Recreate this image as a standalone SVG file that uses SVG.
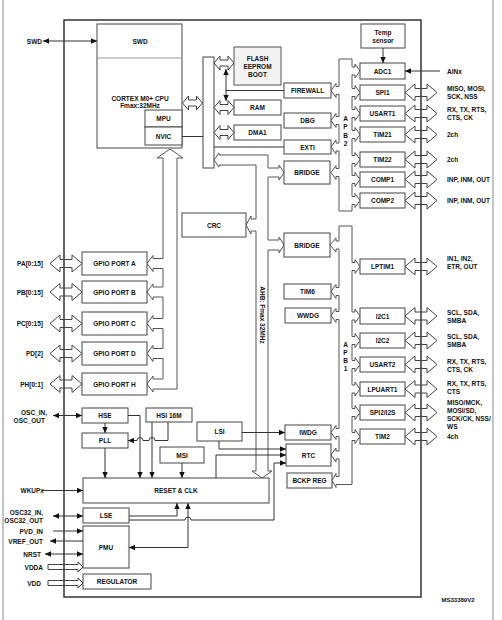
<svg xmlns="http://www.w3.org/2000/svg" width="502" height="620" viewBox="0 0 502 620">
<style>
.box{fill:#fff;stroke:#444;stroke-width:1}
.bx2{fill:#f3f3f3;stroke:#555;stroke-width:1}
.t{font-family:"Liberation Sans",Arial,sans-serif;font-size:6.5px;font-weight:bold;fill:#111;text-anchor:middle;dominant-baseline:central}
.s{text-anchor:start}
.e{text-anchor:end}
.ln{fill:none;stroke:#333;stroke-width:1}
.bus{fill:#fff;stroke:#555;stroke-width:1}
.ha{fill:none;stroke:#444;stroke-width:1}
.pg{stroke:#888;stroke-width:1}
</style>
<defs>
<marker id="a" viewBox="0 0 6 6" refX="6" refY="3" markerWidth="6" markerHeight="6" markerUnits="userSpaceOnUse" orient="auto-start-reverse"><path d="M0,0.3 L6,3 L0,5.7 z" fill="#111"/></marker>
<path id="h32" d="M0,0 L10,-8.5 L10,-4 L22,-4 L22,-8.5 L32,0 L22,8.5 L22,4 L10,4 L10,8.5 Z"/>
<path id="h20" d="M0,0 L6,-7 L6,-3 L14,-3 L14,-7 L20,0 L14,7 L14,3 L6,3 L6,7 Z"/>
<path id="hv" d="M0,-2.5 L30,-2.5 L30,-5 L35,0 L30,5 L30,2.5 L0,2.5 Z"/>
</defs>

<line class="pg" x1="3" y1="0" x2="3" y2="620"/>
<line class="pg" x1="493" y1="0" x2="493" y2="620"/>
<rect id="chip" x="64" y="20" width="357" height="577" fill="none" stroke="#333" stroke-width="1.5"/>

<g id="buses">
<path class="bus" d="M339,59 L352,59 L352,67 L355,67 L355,64 L360,71 L355,78 L355,75 L352,75 L352,88.5 L355,88.5 L355,85.5 L360,92.5 L355,99.5 L355,96.5 L352,96.5 L352,109.5 L355,109.5 L355,106.5 L360,113.5 L355,120.5 L355,117.5 L352,117.5 L352,130.5 L355,130.5 L355,127.5 L360,134.5 L355,141.5 L355,138.5 L352,138.5 L352,155.5 L355,155.5 L355,152.5 L360,159.5 L355,166.5 L355,163.5 L352,163.5 L352,175.5 L355,175.5 L355,172.5 L360,179.5 L355,186.5 L355,183.5 L352,183.5 L352,196.5 L355,196.5 L355,193.5 L360,200.5 L355,207.5 L355,204.5 L352,204.5 L352,211 L339,211 L339,176.5 L336,176.5 L336,179.5 L331,172.5 L336,165.5 L336,168.5 L339,168.5 L339,151 L336,151 L336,154 L331,147 L336,140 L336,143 L339,143 L339,124.5 L336,124.5 L336,127.5 L331,120.5 L336,113.5 L336,116.5 L339,116.5 L339,94.5 L336,94.5 L336,97.5 L331,90.5 L336,83.5 L336,86.5 L339,86.5 Z"/>
<path class="bus" d="M339,226 L352,226 L352,262.5 L355,262.5 L355,259.5 L360,266.5 L355,273.5 L355,270.5 L352,270.5 L352,312 L355,312 L355,309 L360,316 L355,323 L355,320 L352,320 L352,336.5 L355,336.5 L355,333.5 L360,340.5 L355,347.5 L355,344.5 L352,344.5 L352,360.5 L355,360.5 L355,357.5 L360,364.5 L355,371.5 L355,368.5 L352,368.5 L352,385 L355,385 L355,382 L360,389 L355,396 L355,393 L352,393 L352,408.5 L355,408.5 L355,405.5 L360,412.5 L355,419.5 L355,416.5 L352,416.5 L352,432.5 L355,432.5 L355,429.5 L360,436.5 L355,443.5 L355,440.5 L352,440.5 L352,484.5 L336,484.5 L336,487.5 L332,480.5 L336,473.5 L336,476.5 L339,476.5 L339,459 L336,459 L336,462 L331,455 L336,448 L336,451 L339,451 L339,436.5 L336,436.5 L336,439.5 L331,432.5 L336,425.5 L336,428.5 L339,428.5 L339,319.5 L336,319.5 L336,322.5 L331,315.5 L336,308.5 L336,311.5 L339,311.5 L339,295.5 L336,295.5 L336,298.5 L331,291.5 L336,284.5 L336,287.5 L339,287.5 L339,249 L336,249 L336,252 L330,245 L336,238 L336,241 L339,241 Z"/>
<path class="bus" d="M170,149 L183,158 L177,158 L177,389 L153,389 L153,392 L147,384 L153,376 L153,379 L163,379 L163,358.5 L153,358.5 L153,361.5 L147,353.5 L153,345.5 L153,348.5 L163,348.5 L163,328.5 L153,328.5 L153,331.5 L147,323.5 L153,315.5 L153,318.5 L163,318.5 L163,297 L153,297 L153,300 L147,292 L153,284 L153,287 L163,287 L163,268.5 L153,268.5 L153,271.5 L147,263.5 L153,255.5 L153,258.5 L163,258.5 L163,158 L157,158 Z"/>
<path class="bus" d="M214,160 L219,153 L219,155 L268,155 L268,168 L279,168 L279,165 L284,172.5 L279,180 L279,177 L268,177 L268,240 L279,240 L279,237 L284,245 L279,253 L279,250 L268,250 L268,471 L272,471 L262,478 L252,471 L256,471 L256,231 L251,231 L251,234 L246,225 L251,216 L251,219 L256,219 L256,165 L219,165 L219,167 Z"/>
<text class="t" transform="translate(262,315) rotate(90)">AHB: Fmax 32MHz</text>
<text class="t" x="345.5" y="118">A</text><text class="t" x="345.5" y="126.5">P</text><text class="t" x="345.5" y="135">B</text><text class="t" x="345.5" y="143.5">2</text>
<text class="t" x="345.5" y="344">A</text><text class="t" x="345.5" y="352">P</text><text class="t" x="345.5" y="360">B</text><text class="t" x="345.5" y="368">1</text>
</g>

<g id="n-cpu"><rect class="box" x="97" y="24" width="85" height="124"/><line x1="97" y1="58" x2="182" y2="58" stroke="#999"/><text class="t" x="140" y="41">SWD</text><text class="t" x="140" y="98">CORTEX M0+ CPU</text><text class="t" x="140" y="105.5">Fmax:32MHz</text></g>
<g id="n-mpu"><rect class="box" x="145" y="110" width="37" height="17"/><text class="t" x="163.5" y="118.5">MPU</text></g>
<g id="n-nvic"><rect class="box" x="145" y="127" width="37" height="18"/><text class="t" x="163.5" y="136">NVIC</text></g>
<g id="n-busmatrix"><rect class="box" x="203" y="57" width="11" height="111"/></g>
<g id="n-flash"><rect class="bx2" x="234" y="47" width="47" height="38"/><text class="t" x="257.5" y="58">FLASH</text><text class="t" x="257.5" y="66">EEPROM</text><text class="t" x="257.5" y="74">BOOT</text></g>
<g id="n-ram"><rect class="box" x="234" y="100" width="47" height="15"/><text class="t" x="257.5" y="107.5">RAM</text></g>
<g id="n-dma1"><rect class="box" x="234" y="125" width="47" height="15"/><text class="t" x="257.5" y="132.5">DMA1</text></g>
<g id="n-firewall"><rect class="box" x="284" y="83" width="47" height="15"/><text class="t" x="307.5" y="90.5">FIREWALL</text></g>
<g id="n-dbg"><rect class="box" x="284" y="113" width="47" height="15"/><text class="t" x="307.5" y="120.5">DBG</text></g>
<g id="n-exti"><rect class="box" x="284" y="140" width="47" height="14"/><text class="t" x="307.5" y="147">EXTI</text></g>
<g id="n-bridge1"><rect class="box" x="284" y="161" width="46" height="23"/><text class="t" x="307" y="172.5">BRIDGE</text></g>
<g id="n-crc"><rect class="box" x="182" y="213" width="64" height="24"/><text class="t" x="214" y="225">CRC</text></g>
<g id="n-bridge2"><rect class="box" x="284" y="233" width="46" height="24"/><text class="t" x="307" y="245">BRIDGE</text></g>
<g id="n-tim6"><rect class="box" x="284" y="284" width="47" height="15"/><text class="t" x="307.5" y="291.5">TIM6</text></g>
<g id="n-wwdg"><rect class="box" x="285" y="308" width="46" height="15"/><text class="t" x="308" y="315.5">WWDG</text></g>
<g id="n-iwdg"><rect class="box" x="285" y="425" width="46" height="15"/><text class="t" x="308" y="432.5">IWDG</text></g>
<g id="n-rtc"><rect class="box" x="286" y="444" width="45" height="22"/><text class="t" x="308.5" y="455">RTC</text></g>
<g id="n-bckp"><rect class="box" x="287" y="473" width="45" height="15"/><text class="t" x="309.5" y="480.5">BCKP REG</text></g>
<g id="n-temp"><rect class="box" x="361" y="24" width="44" height="24"/><text class="t" x="383" y="32.5">Temp</text><text class="t" x="383" y="40.5">sensor</text></g>
<g id="n-adc1"><rect class="box" x="360" y="63" width="45" height="16"/><text class="t" x="382.5" y="71">ADC1</text></g>
<g id="n-spi1"><rect class="box" x="360" y="85" width="45" height="15"/><text class="t" x="382.5" y="92.5">SPI1</text></g>
<g id="n-usart1"><rect class="box" x="360" y="106" width="45" height="15"/><text class="t" x="382.5" y="113.5">USART1</text></g>
<g id="n-tim21"><rect class="box" x="360" y="127" width="45" height="15"/><text class="t" x="382.5" y="134.5">TIM21</text></g>
<g id="n-tim22"><rect class="box" x="360" y="152" width="45" height="15"/><text class="t" x="382.5" y="159.5">TIM22</text></g>
<g id="n-comp1"><rect class="box" x="360" y="172" width="45" height="15"/><text class="t" x="382.5" y="179.5">COMP1</text></g>
<g id="n-comp2"><rect class="box" x="360" y="193" width="45" height="15"/><text class="t" x="382.5" y="200.5">COMP2</text></g>
<g id="n-lptim1"><rect class="box" x="360" y="259" width="45" height="15"/><text class="t" x="382.5" y="266.5">LPTIM1</text></g>
<g id="n-i2c1"><rect class="box" x="360" y="308" width="45" height="16"/><text class="t" x="382.5" y="316">I2C1</text></g>
<g id="n-i2c2"><rect class="box" x="360" y="333" width="45" height="15"/><text class="t" x="382.5" y="340.5">I2C2</text></g>
<g id="n-usart2"><rect class="box" x="360" y="357" width="45" height="15"/><text class="t" x="382.5" y="364.5">USART2</text></g>
<g id="n-lpuart1"><rect class="box" x="360" y="382" width="45" height="14"/><text class="t" x="382.5" y="389">LPUART1</text></g>
<g id="n-spi2"><rect class="box" x="360" y="405" width="45" height="15"/><text class="t" x="382.5" y="412.5">SPI2/I2S</text></g>
<g id="n-tim2"><rect class="box" x="360" y="429" width="45" height="15"/><text class="t" x="382.5" y="436.5">TIM2</text></g>
<g id="n-gpioa"><rect class="box" x="82" y="252" width="65" height="23"/><text class="t" x="114.5" y="263.5">GPIO PORT A</text></g>
<g id="n-gpiob"><rect class="box" x="82" y="281" width="65" height="22"/><text class="t" x="114.5" y="292">GPIO PORT B</text></g>
<g id="n-gpioc"><rect class="box" x="82" y="312" width="65" height="23"/><text class="t" x="114.5" y="323.5">GPIO PORT C</text></g>
<g id="n-gpiod"><rect class="box" x="82" y="342" width="65" height="23"/><text class="t" x="114.5" y="353.5">GPIO PORT D</text></g>
<g id="n-gpioh"><rect class="box" x="82" y="373" width="65" height="22"/><text class="t" x="114.5" y="384">GPIO PORT H</text></g>
<g id="n-hse"><rect class="box" x="82" y="408" width="46" height="15"/><text class="t" x="105" y="415.5">HSE</text></g>
<g id="n-pll"><rect class="box" x="82" y="433" width="46" height="15"/><text class="t" x="105" y="440.5">PLL</text></g>
<g id="n-hsi"><rect class="box" x="146" y="408" width="46" height="14"/><text class="t" x="169" y="415">HSI 16M</text></g>
<g id="n-msi"><rect class="box" x="160" y="447" width="44" height="16"/><text class="t" x="182" y="455">MSI</text></g>
<g id="n-lsi"><rect class="box" x="197" y="422" width="45" height="19"/><text class="t" x="219.5" y="431.5">LSI</text></g>
<g id="n-reset"><rect class="box" x="83" y="478" width="186" height="25"/><text class="t" x="176" y="490.5">RESET &amp; CLK</text></g>
<g id="n-lse"><rect class="box" x="83" y="508" width="46" height="15"/><text class="t" x="106" y="515.5">LSE</text></g>
<g id="n-pmu"><rect class="box" x="83" y="526" width="46" height="42"/><text class="t" x="106" y="547">PMU</text></g>
<g id="n-reg"><rect class="box" x="83" y="574" width="68" height="15"/><text class="t" x="117" y="581.5">REGULATOR</text></g>

<g id="connectors">
<line class="ln" x1="43" y1="41" x2="97" y2="41" marker-start="url(#a)" marker-end="url(#a)"/>
<use href="#h20" class="ha" x="214" y="63"/>
<use href="#h20" class="ha" x="214" y="107.5"/>
<use href="#h20" class="ha" x="214" y="132.5"/>
<use href="#h20" class="ha" x="182.5" y="103"/>
<line class="ln" x1="284" y1="90.5" x2="226" y2="90.5"/>
<line class="ln" x1="226" y1="69" x2="226" y2="101" marker-start="url(#a)" marker-end="url(#a)"/>
<line class="ln" x1="182" y1="136.5" x2="203" y2="136.5"/>
<line class="ln" x1="214" y1="147" x2="284" y2="147"/>
<line class="ln" x1="383" y1="48" x2="383" y2="63" marker-end="url(#a)"/>
<line class="ln" x1="440" y1="71" x2="405" y2="71" marker-end="url(#a)"/>
<use href="#h32" class="ha" x="405" y="92.5"/>
<use href="#h32" class="ha" x="405" y="113.5"/>
<use href="#h32" class="ha" x="405" y="134.5"/>
<use href="#h32" class="ha" x="405" y="159.5"/>
<use href="#h32" class="ha" x="405" y="179.5"/>
<use href="#h32" class="ha" x="405" y="200.5"/>
<use href="#h32" class="ha" x="405" y="266.5"/>
<use href="#h32" class="ha" x="405" y="316"/>
<use href="#h32" class="ha" x="405" y="340.5"/>
<use href="#h32" class="ha" x="405" y="364.5"/>
<use href="#h32" class="ha" x="405" y="389"/>
<use href="#h32" class="ha" x="405" y="412.5"/>
<use href="#h32" class="ha" x="405" y="436.5"/>
<use href="#h32" class="ha" x="50" y="263.5"/>
<use href="#h32" class="ha" x="50" y="292"/>
<use href="#h32" class="ha" x="50" y="323.5"/>
<use href="#h32" class="ha" x="50" y="353.5"/>
<use href="#h32" class="ha" x="50" y="384"/>
<line class="ln" x1="53" y1="415.5" x2="82" y2="415.5" marker-start="url(#a)" marker-end="url(#a)"/>
<line class="ln" x1="105" y1="423" x2="105" y2="433" marker-end="url(#a)"/>
<path class="ln" d="M168,422 L168,440.5 L155,440.5 A3,3 0 0 0 149,440.5 L143,440.5 A3,3 0 0 0 137,440.5 L128,440.5" marker-end="url(#a)"/>
<line class="ln" x1="105" y1="448" x2="105" y2="478" marker-end="url(#a)"/>
<path class="ln" d="M128,415.5 L140,415.5 L140,478" marker-end="url(#a)"/>
<line class="ln" x1="152" y1="422" x2="152" y2="478" marker-end="url(#a)"/>
<line class="ln" x1="182" y1="463" x2="182" y2="478" marker-end="url(#a)"/>
<path class="ln" d="M216,478 L216,455 L286,455" marker-end="url(#a)"/>
<line class="ln" x1="242" y1="432.5" x2="285" y2="432.5" marker-end="url(#a)"/>
<path class="ln" d="M219,441 L219,449 L286,449" marker-end="url(#a)"/>
<path class="ln" d="M129,520 L185,520 A3,3 0 0 1 191,520 L274,520 L274,463 L286,463" marker-end="url(#a)"/>
<path class="ln" d="M129,516 L177,516 L177,503" marker-end="url(#a)"/>
<path class="ln" d="M129,547.5 L188,547.5 L188,503" marker-start="url(#a)" marker-end="url(#a)"/>
<line class="ln" x1="43" y1="490.5" x2="83" y2="490.5" marker-end="url(#a)"/>
<line class="ln" x1="53" y1="516" x2="83" y2="516" marker-start="url(#a)" marker-end="url(#a)"/>
<line class="ln" x1="53" y1="531" x2="83" y2="531" marker-end="url(#a)"/>
<line class="ln" x1="83" y1="541" x2="50" y2="541" marker-end="url(#a)"/>
<line class="ln" x1="45" y1="554" x2="83" y2="554" marker-start="url(#a)" marker-end="url(#a)"/>
<use href="#hv" class="ha" x="48" y="567"/>
<use href="#hv" class="ha" x="48" y="583"/>
</g>

<g id="labels">
<text class="t e" x="42" y="41">SWD</text>
<text class="t s" x="447" y="71">AINx</text>
<text class="t s" x="447" y="88">MISO, MOSI,</text><text class="t s" x="447" y="96">SCK, NSS</text>
<text class="t s" x="447" y="109">RX, TX, RTS,</text><text class="t s" x="447" y="117">CTS, CK</text>
<text class="t s" x="447" y="134.5">2ch</text>
<text class="t s" x="447" y="159.5">2ch</text>
<text class="t s" x="447" y="179.5">INP, INM, OUT</text>
<text class="t s" x="447" y="200.5">INP, INM, OUT</text>
<text class="t s" x="447" y="258.5">IN1, IN2,</text><text class="t s" x="447" y="266.5">ETR, OUT</text>
<text class="t s" x="447" y="312">SCL, SDA,</text><text class="t s" x="447" y="320">SMBA</text>
<text class="t s" x="447" y="336.5">SCL, SDA,</text><text class="t s" x="447" y="344.5">SMBA</text>
<text class="t s" x="447" y="361">RX, TX, RTS,</text><text class="t s" x="447" y="369">CTS, CK</text>
<text class="t s" x="447" y="383.5">RX, TX, RTS,</text><text class="t s" x="447" y="391.5">CTS</text>
<text class="t s" x="447" y="402.5">MISO/MCK,</text><text class="t s" x="447" y="410.5">MOSI/SD,</text><text class="t s" x="447" y="418.5">SCK/CK, NSS/</text><text class="t s" x="447" y="426.5">WS</text>
<text class="t s" x="447" y="436.5">4ch</text>
<text class="t e" x="43" y="263.5">PA[0:15]</text>
<text class="t e" x="43" y="292">PB[0:15]</text>
<text class="t e" x="43" y="323.5">PC[0:15]</text>
<text class="t e" x="43" y="353.5">PD[2]</text>
<text class="t e" x="43" y="384">PH[0:1]</text>
<text class="t e" x="47" y="412.5">OSC_IN,</text><text class="t e" x="45" y="420.5">OSC_OUT</text>
<text class="t e" x="44" y="490.5">WKUPx</text>
<text class="t e" x="43" y="512.5">OSC32_IN,</text><text class="t e" x="43" y="520.5">OSC32_OUT</text>
<text class="t e" x="43" y="531">PVD_IN</text>
<text class="t e" x="43" y="541">VREF_OUT</text>
<text class="t e" x="41" y="554">NRST</text>
<text class="t e" x="43" y="567">VDDA</text>
<text class="t e" x="41" y="583">VDD</text>
<text class="t" x="458" y="600" style="font-size:6px">MS33389V2</text>
</g>
</svg>
